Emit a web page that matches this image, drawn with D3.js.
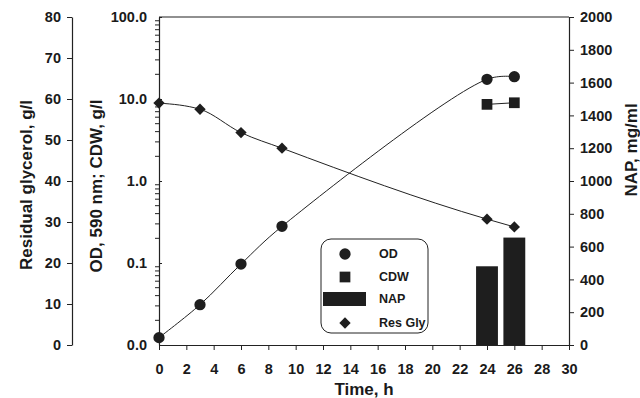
<!DOCTYPE html>
<html>
<head>
<meta charset="utf-8">
<script src="https://cdn.jsdelivr.net/npm/d3@7"></script>
<style>
  body { margin: 0; background: #fff; }
  svg { display: block; font-family: "Liberation Sans", Arial, sans-serif; }
  .tick text { font-size: 14.5px; font-weight: bold; fill: #1a1a1a; }
  .title { font-size: 17px; font-weight: bold; fill: #1a1a1a; }
  .legend text { font-size: 12.5px; font-weight: bold; fill: #1a1a1a; }
</style>
</head>
<body>
<script>
// data
var time = [0, 3, 6, 9, 24, 26];
var od = [0.0123, 0.031, 0.097, 0.28, 17.4, 18.7];
var glycerol = [59, 57.5, 51.8, 48, 30.7, 28.8];
var cdwTime = [24, 26];
var cdw = [8.6, 9.0];
var napTime = [24, 26];
var nap = [480, 655];
var xTicks = d3.range(0, 31, 2);
var logTicks = [0.01, 0.1, 1, 10, 100];
var glyTicks = d3.range(0, 81, 10);
var napTicks = d3.range(0, 2001, 200);

var width = 640, height = 398;
var plotLeft = 159, plotRight = 569, plotTop = 17, plotBottom = 345;

var svg = d3.select("body").append("svg")
  .attr("width", width)
  .attr("height", height);

// scales
var x = d3.scaleLinear().domain([0, 30]).range([plotLeft, plotRight]);
var yLog = d3.scaleLog().domain([0.01, 100]).range([plotBottom, plotTop]);
var yGly = d3.scaleLinear().domain([0, 80]).range([plotBottom, plotTop]);
var yNap = d3.scaleLinear().domain([0, 2000]).range([plotBottom, plotTop]);

// top frame line
svg.append("line")
  .attr("x1", plotLeft).attr("x2", plotRight)
  .attr("y1", plotTop).attr("y2", plotTop)
  .attr("stroke", "#222").attr("stroke-width", 1.2);

// NAP bars
var barW = x(1.6) - x(0);
svg.selectAll("rect.bar")
  .data(napTime.map(function(t, i) { return {t: t, v: nap[i]}; }))
  .enter().append("rect")
  .attr("class", "bar")
  .attr("x", function(d) { return x(d.t) - barW / 2; })
  .attr("y", function(d) { return yNap(d.v); })
  .attr("width", barW)
  .attr("height", function(d) { return plotBottom - yNap(d.v); })
  .attr("fill", "#1e1e1e");

// x axis
svg.append("g")
  .attr("transform", "translate(0," + plotBottom + ")")
  .call(d3.axisBottom(x).tickValues(xTicks).tickSize(5).tickSizeOuter(0).tickPadding(14));

// log axis (OD, CDW)
var logAxis = svg.append("g")
  .attr("transform", "translate(" + plotLeft + ",0)")
  .call(d3.axisLeft(yLog).tickValues(logTicks).tickFormat(d3.format(".1f")).tickSize(4).tickSizeOuter(0).tickPadding(8));
logAxis.selectAll(".tick line").attr("x2", 3);

// minor log ticks
var minor = [];
[0.01, 0.1, 1, 10].forEach(function(d) {
  for (var k = 2; k <= 9; k++) minor.push(d * k);
});
svg.append("g").selectAll("line")
  .data(minor)
  .enter().append("line")
  .attr("x1", plotLeft - 4).attr("x2", plotLeft + 1)
  .attr("y1", function(d) { return yLog(d); })
  .attr("y2", function(d) { return yLog(d); })
  .attr("stroke", "#222");

// glycerol axis
svg.append("g")
  .attr("transform", "translate(72,0)")
  .call(d3.axisLeft(yGly).tickValues(glyTicks).tickSize(5).tickSizeOuter(0).tickPadding(6));

// NAP axis
svg.append("g")
  .attr("transform", "translate(" + plotRight + ",0)")
  .call(d3.axisRight(yNap).tickValues(napTicks).tickFormat(d3.format("d")).tickSize(5).tickSizeOuter(0).tickPadding(6));

svg.selectAll(".domain").attr("stroke", "#222").attr("stroke-width", 1.2);
svg.selectAll(".tick line").attr("stroke", "#222");

// lines (smoothed like the original)
var odLine = d3.line().curve(d3.curveCatmullRom.alpha(0.5))
  .x(function(d, i) { return x(time[i]); })
  .y(function(d) { return yLog(d); });
var glyLine = d3.line().curve(d3.curveMonotoneX)
  .x(function(d, i) { return x(time[i]); })
  .y(function(d) { return yGly(d); });
var cdwLine = d3.line()
  .x(function(d, i) { return x(cdwTime[i]); })
  .y(function(d) { return yLog(d); });

svg.append("path").attr("d", odLine(od))
  .attr("fill", "none").attr("stroke", "#222").attr("stroke-width", 1);
svg.append("path").attr("d", glyLine(glycerol))
  .attr("fill", "none").attr("stroke", "#222").attr("stroke-width", 1);
svg.append("path").attr("d", cdwLine(cdw))
  .attr("fill", "none").attr("stroke", "#222").attr("stroke-width", 1);

// markers
var circle = d3.symbol().type(d3.symbolCircle).size(100);
var square = d3.symbol().type(d3.symbolSquare).size(115);
var diamond = d3.symbol().type(d3.symbolSquare).size(64);

svg.selectAll("path.od")
  .data(od).enter().append("path")
  .attr("class", "od")
  .attr("d", circle)
  .attr("transform", function(d, i) { return "translate(" + x(time[i]) + "," + yLog(d) + ")"; })
  .attr("fill", "#1e1e1e");

svg.selectAll("path.cdw")
  .data(cdw).enter().append("path")
  .attr("class", "cdw")
  .attr("d", square)
  .attr("transform", function(d, i) { return "translate(" + x(cdwTime[i]) + "," + yLog(d) + ")"; })
  .attr("fill", "#1e1e1e");

svg.selectAll("path.gly")
  .data(glycerol).enter().append("path")
  .attr("class", "gly")
  .attr("d", diamond)
  .attr("transform", function(d, i) { return "translate(" + x(time[i]) + "," + yGly(d) + ") rotate(45)"; })
  .attr("fill", "#1e1e1e");

// axis titles
svg.append("text").attr("class", "title")
  .attr("transform", "translate(26,185) rotate(-90)")
  .attr("text-anchor", "middle").attr("dy", "0.35em")
  .text("Residual glycerol, g/l");
svg.append("text").attr("class", "title")
  .attr("transform", "translate(96,186) rotate(-90)")
  .attr("text-anchor", "middle").attr("dy", "0.35em")
  .text("OD, 590 nm; CDW, g/l");
svg.append("text").attr("class", "title")
  .attr("transform", "translate(631,150) rotate(-90)")
  .attr("text-anchor", "middle").attr("dy", "0.35em")
  .text("NAP, mg/ml");
svg.append("text").attr("class", "title")
  .attr("x", 364).attr("y", 395)
  .attr("text-anchor", "middle")
  .text("Time, h");

// legend
var legend = svg.append("g").attr("class", "legend");
legend.append("rect")
  .attr("x", 321).attr("y", 239)
  .attr("width", 107).attr("height", 94)
  .attr("rx", 10)
  .attr("fill", "#fff").attr("stroke", "#222").attr("stroke-width", 1);

var legendItems = ["OD", "CDW", "NAP", "Res Gly"];
var legendY = [254, 277, 299, 323];
legend.append("path").attr("d", circle)
  .attr("transform", "translate(345," + legendY[0] + ")").attr("fill", "#1e1e1e");
legend.append("path").attr("d", square)
  .attr("transform", "translate(345," + legendY[1] + ")").attr("fill", "#1e1e1e");
legend.append("rect")
  .attr("x", 323).attr("y", legendY[2] - 7)
  .attr("width", 43).attr("height", 14).attr("fill", "#1e1e1e");
legend.append("path").attr("d", diamond)
  .attr("transform", "translate(345," + legendY[3] + ") rotate(45)").attr("fill", "#1e1e1e");
legend.selectAll("text")
  .data(legendItems).enter().append("text")
  .attr("x", 379)
  .attr("y", function(d, i) { return legendY[i]; })
  .attr("dy", "0.35em")
  .text(function(d) { return d; });
</script>
</body>
</html>
